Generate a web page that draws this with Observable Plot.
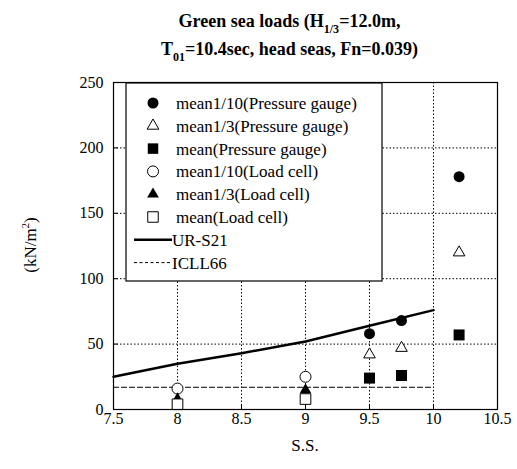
<!DOCTYPE html>
<html><head><meta charset="utf-8">
<script src="https://cdn.jsdelivr.net/npm/d3@7"></script>
<script src="https://cdn.jsdelivr.net/npm/@observablehq/plot@0.6"></script>
<style>
body{margin:0;background:#fff;overflow:hidden;}
.ser{font-family:'Liberation Serif';}
.sb{font-size:12px;vertical-align:-6px;line-height:0;}
</style></head>
<body>
<div class="ser" style="width:517px;height:70px;text-align:center;font-weight:bold;font-size:18px;line-height:28px;padding-top:7px;box-sizing:border-box;padding-left:62px;">Green sea loads (H<sub class="sb">1/3</sub>=12.0m,<br>T<sub class="sb">01</sub>=10.4sec, head seas, Fn=0.039)</div>
<div id="chart"></div>
<script>
// Data
const ssPressure = [9.5, 9.75, 10.2];
const pgMean110 = [58, 68, 178];
const pgMean13 = [42, 47, 120];
const pgMean = [24, 26, 57];
const ssLoad = [8, 9];
const lcMean110 = [16, 25];
const lcMean13 = [8, 15];
const lcMean = [4, 8];
const ursSS = [7.5, 8, 8.5, 9, 9.5, 10];
const ursVal = [25, 35, 43, 52, 64, 76];
const icllSS = [7.5, 10];
const icllVal = [17, 17];
const xTicks = [7.5, 8, 8.5, 9, 9.5, 10, 10.5];
const yTicks = [0, 50, 100, 150, 200, 250];
const seriesNames = ["mean1/10(Pressure gauge)","mean1/3(Pressure gauge)","mean(Pressure gauge)","mean1/10(Load cell)","mean1/3(Load cell)","mean(Load cell)","UR-S21","ICLL66"];

const FONT = "Liberation Serif";
const pts = (xs, ys) => xs.map((x, i) => ({x, y: ys[i]}));

const chart = Plot.plot({
  width: 517, height: 399,
  marginLeft: 113, marginRight: 20, marginTop: 12, marginBottom: 60,
  style: {fontFamily: FONT, fontSize: "16px"},
  x: {domain: [7.5, 10.5], ticks: xTicks, label: null, tickFormat: d => String(d)},
  y: {domain: [0, 250], ticks: yTicks, label: null},
  marks: [
    Plot.gridX(xTicks, {stroke: "#000", strokeOpacity: 1, strokeDasharray: "1.5,2", strokeWidth: 1}),
    Plot.gridY(yTicks, {stroke: "#000", strokeOpacity: 1, strokeDasharray: "1.5,2", strokeWidth: 1}),
    Plot.axisX({ticks: xTicks, tickSize: 0, tickPadding: 3, fontSize: 16, tickFormat: d => String(d)}),
    Plot.axisY({ticks: yTicks, tickSize: 0, tickPadding: 10, fontSize: 16}),
    Plot.axisX({ticks: xTicks, tickSize: -5, tickFormat: () => ""}),
    Plot.axisY({ticks: yTicks, tickSize: -5, tickFormat: () => ""}),
    Plot.line(pts(icllSS, icllVal), {x: "x", y: "y", stroke: "#000", strokeWidth: 1.2, strokeDasharray: "5,3"}),
    Plot.line(pts(ursSS, ursVal), {x: "x", y: "y", stroke: "#000", strokeWidth: 2.5}),
    Plot.dot(pts(ssPressure, pgMean110), {x: "x", y: "y", symbol: "circle", r: 5.5, fill: "#000"}),
    Plot.dot(pts(ssPressure, pgMean13), {x: "x", y: "y", symbol: "triangle", r: 4.3, fill: "#fff", stroke: "#000", strokeWidth: 1}),
    Plot.dot(pts(ssPressure, pgMean), {x: "x", y: "y", symbol: "square", r: 6.2, fill: "#000"}),
    Plot.dot(pts(ssLoad, lcMean110), {x: "x", y: "y", symbol: "circle", r: 5.5, fill: "#fff", stroke: "#000", strokeWidth: 1}),
    Plot.dot(pts(ssLoad, lcMean13), {x: "x", y: "y", symbol: "triangle", r: 4.3, fill: "#000"}),
    Plot.dot(pts(ssLoad, lcMean), {x: "x", y: "y", symbol: "square", r: 6, fill: "#fff", stroke: "#000", strokeWidth: 1}),
    Plot.frame({stroke: "#000", strokeWidth: 1.2})
  ]
});
document.getElementById("chart").append(chart);

// axis labels
const svg = d3.select(chart);
const yl = svg.append("text").attr("transform", "translate(36,175) rotate(-90)")
  .attr("text-anchor", "middle").attr("font-size", 17).attr("fill", "#000")
  .attr("font-family", FONT);
yl.append("tspan").text("(kN/m");
yl.append("tspan").attr("font-size", 11).attr("dy", -7).text("2");
yl.append("tspan").attr("dy", 7).text(")");
svg.append("text").attr("x", 305).attr("y", 381)
  .attr("text-anchor", "middle").attr("font-size", 17).attr("fill", "#000")
  .attr("font-family", FONT)
  .text("S.S.");

// legend (inside the chart svg)
const lg = svg.append("g").attr("transform", "translate(126,13)").attr("text-anchor", "start");
lg.append("rect").attr("x", 0).attr("y", 0).attr("width", 256).attr("height", 198)
  .attr("fill", "#fff").attr("stroke", "#000").attr("stroke-width", 1.2);
const symDefs = [
  {sym: d3.symbolCircle, size: Math.PI * 5.5 * 5.5, fill: "#000", stroke: "none"},
  {sym: d3.symbolTriangle, size: 60, fill: "#fff", stroke: "#000"},
  {sym: d3.symbolSquare, size: 110, fill: "#000", stroke: "none"},
  {sym: d3.symbolCircle, size: Math.PI * 5.5 * 5.5, fill: "#fff", stroke: "#000"},
  {sym: d3.symbolTriangle, size: 60, fill: "#000", stroke: "none"},
  {sym: d3.symbolSquare, size: 110, fill: "#fff", stroke: "#000"}
];
seriesNames.forEach((name, i) => {
  const cy = 20 + i * 22.8;
  if (i < 6) {
    const s = symDefs[i];
    lg.append("path").attr("transform", `translate(27,${cy})`)
      .attr("d", d3.symbol(s.sym, s.size)())
      .attr("fill", s.fill).attr("stroke", s.stroke);
  } else {
    lg.append("line").attr("x1", 8).attr("x2", 46).attr("y1", cy).attr("y2", cy)
      .attr("stroke", "#000").attr("stroke-width", i === 6 ? 2.5 : 1)
      .attr("stroke-dasharray", i === 6 ? null : "3,2.5");
  }
  lg.append("text").attr("x", i < 6 ? 50 : 46).attr("y", cy + 6).attr("font-size", 17)
    .attr("text-anchor", "start")
    .attr("font-family", FONT).attr("fill", "#000").text(name);
});
</script>
</body></html>
